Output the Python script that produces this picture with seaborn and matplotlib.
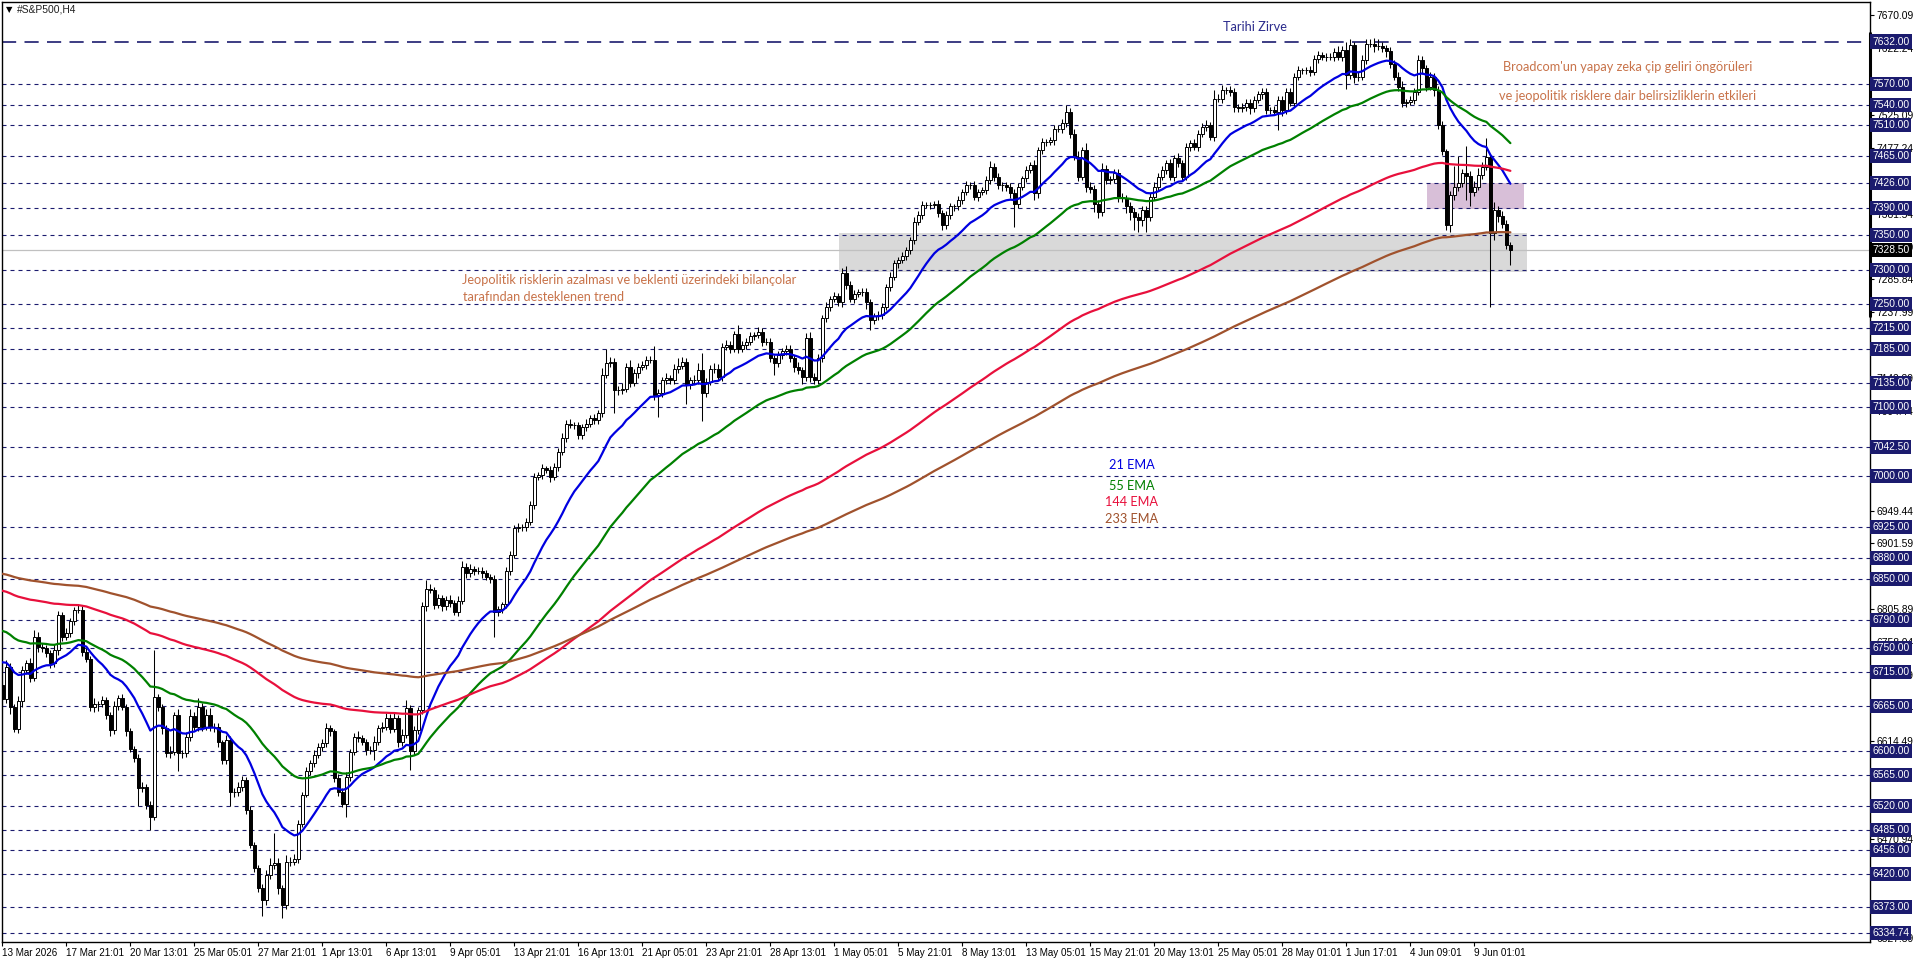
import numpy as np
import pandas as pd
import matplotlib
matplotlib.use("Agg")
import matplotlib.pyplot as plt
import matplotlib.transforms as mtransforms
import seaborn as sns

# H4 candles (one row = one time-label interval of 16 bars)
first_open = 6695
closes = [
    6675, 6722, 6664, 6632, 6672, 6717, 6727, 6706, 6766, 6751, 6749, 6742, 6727, 6746, 6797, 6766,
    6771, 6788, 6805, 6805, 6744, 6734, 6664, 6668, 6668, 6674, 6652, 6630, 6665, 6676, 6664, 6628,
    6603, 6589, 6545, 6547, 6521, 6504, 6678, 6664, 6633, 6596, 6598, 6652, 6596, 6596, 6620, 6650,
    6635, 6664, 6635, 6652, 6635, 6635, 6612, 6586, 6615, 6540, 6540, 6547, 6557, 6514, 6463, 6429,
    6400, 6382, 6419, 6434, 6436, 6400, 6375, 6438, 6438, 6443, 6494, 6536, 6570, 6582, 6594, 6606,
    6611, 6633, 6628, 6560, 6540, 6523, 6562, 6598, 6620, 6618, 6613, 6601, 6601, 6613, 6633, 6635,
    6647, 6632, 6647, 6613, 6623, 6662, 6599, 6630, 6659, 6810, 6836, 6834, 6812, 6822, 6810, 6820,
    6815, 6802, 6818, 6868, 6858, 6865, 6862, 6862, 6858, 6853, 6850, 6802, 6806, 6813, 6861, 6885,
    6924, 6926, 6925, 6933, 6958, 6999, 7001, 7011, 7009, 6999, 7013, 7035, 7055, 7076, 7074, 7074,
    7059, 7071, 7076, 7084, 7081, 7092, 7147, 7164, 7166, 7125, 7125, 7127, 7159, 7135, 7149, 7159,
    7161, 7169, 7169, 7118, 7120, 7139, 7142, 7139, 7156, 7160, 7166, 7132, 7139, 7139, 7154, 7120,
    7137, 7156, 7156, 7144, 7188, 7190, 7185, 7206, 7185, 7190, 7195, 7203, 7205, 7210, 7195, 7195,
    7171, 7164, 7176, 7181, 7185, 7171, 7159, 7154, 7144, 7200, 7144, 7139, 7171, 7229, 7246, 7258,
    7261, 7253, 7295, 7278, 7258, 7265, 7268, 7268, 7253, 7227, 7232, 7234, 7246, 7275, 7290, 7309,
    7314, 7320, 7328, 7343, 7370, 7380, 7394, 7394, 7394, 7396, 7382, 7365, 7379, 7392, 7392, 7401,
    7413, 7423, 7423, 7406, 7413, 7416, 7430, 7450, 7435, 7423, 7423, 7421, 7411, 7396, 7421, 7433,
    7445, 7452, 7411, 7474, 7486, 7486, 7488, 7505, 7505, 7513, 7530, 7498, 7464, 7435, 7474, 7421,
    7418, 7396, 7384, 7447, 7430, 7432, 7440, 7406, 7404, 7392, 7384, 7377, 7372, 7387, 7377, 7406,
    7421, 7435, 7445, 7455, 7435, 7462, 7455, 7435, 7479, 7484, 7479, 7498, 7508, 7510, 7493, 7549,
    7549, 7561, 7561, 7559, 7537, 7535, 7537, 7543, 7535, 7547, 7555, 7559, 7532, 7532, 7530, 7547,
    7532, 7559, 7543, 7581, 7590, 7590, 7590, 7588, 7607, 7612, 7610, 7610, 7610, 7617, 7610, 7620,
    7583, 7627, 7581, 7581, 7605, 7629, 7629, 7625, 7625, 7622, 7618, 7600, 7581, 7566, 7542, 7544,
    7547, 7559, 7605, 7593, 7566, 7580, 7562, 7510, 7472, 7365, 7409, 7421, 7426, 7440, 7437, 7413,
    7421, 7438, 7450, 7464, 7353, 7387, 7378, 7367, 7336, 7328.5,
]
upper_wick = [
    6, 10, 5, 4, 8, 6, 5, 8, 10, 6, 6, 5, 4, 9, 6, 5,
    7, 5, 4, 9, 6, 5, 4, 8, 5, 6, 4, 5, 7, 5, 6, 4,
    5, 4, 6, 8, 5, 6, 68, 5, 4, 5, 9, 5, 8, 5, 7, 10,
    6, 12, 5, 9, 10, 6, 5, 4, 8, 7, 5, 8, 6, 4, 5, 4,
    4, 6, 8, 10, 44, 8, 5, 10, 8, 6, 5, 4, 6, 5, 7, 5,
    6, 8, 5, 4, 6, 5, 7, 5, 6, 9, 5, 4, 6, 8, 5, 7,
    8, 6, 10, 5, 8, 12, 4, 6, 5, 6, 12, 6, 4, 6, 5, 5,
    6, 5, 7, 8, 5, 6, 4, 5, 6, 5, 4, 6, 5, 4, 6, 5,
    5, 6, 4, 5, 6, 5, 5, 6, 4, 5, 6, 5, 8, 5, 6, 4,
    5, 4, 6, 5, 6, 4, 10, 20, 7, 6, 5, 8, 5, 10, 6, 5,
    6, 5, 6, 20, 6, 5, 8, 5, 6, 12, 7, 6, 5, 8, 10, 25,
    6, 5, 8, 6, 5, 7, 6, 5, 14, 6, 5, 6, 4, 6, 5, 6,
    6, 5, 6, 5, 5, 6, 5, 6, 4, 8, 10, 5, 6, 5, 7, 4,
    6, 5, 8, 10, 6, 5, 4, 6, 5, 4, 5, 6, 5, 4, 6, 5,
    5, 6, 5, 4, 6, 5, 6, 4, 5, 4, 6, 5, 6, 5, 4, 6,
    5, 6, 5, 6, 5, 4, 6, 8, 5, 6, 5, 4, 5, 6, 5, 4,
    6, 5, 8, 5, 6, 4, 5, 6, 5, 6, 10, 5, 6, 8, 5, 10,
    6, 5, 6, 8, 6, 5, 6, 6, 5, 5, 6, 5, 6, 5, 6, 5,
    6, 5, 6, 5, 6, 5, 8, 5, 6, 5, 6, 5, 6, 8, 5, 12,
    6, 8, 5, 6, 5, 4, 6, 5, 5, 6, 5, 6, 5, 4, 6, 5,
    6, 5, 6, 5, 6, 4, 5, 6, 5, 6, 5, 6, 5, 6, 8, 6,
    12, 9, 5, 6, 8, 6, 7, 8, 10, 6, 5, 6, 5, 6, 8, 5,
    5, 6, 8, 6, 5, 8, 6, 5, 6, 4, 6, 30, 40, 6, 40, 6,
    8, 10, 6, 27, 3, 12, 6, 8, 5, 4,
]
lower_wick = [
    8, 6, 10, 5, 6, 8, 5, 6, 5, 8, 6, 5, 6, 5, 7, 6,
    5, 6, 5, 4, 6, 5, 6, 8, 10, 5, 6, 8, 5, 6, 5, 6,
    5, 6, 25, 5, 6, 19, 5, 6, 8, 5, 6, 5, 25, 6, 5, 6,
    5, 6, 7, 5, 6, 8, 6, 5, 6, 20, 8, 6, 5, 6, 5, 6,
    5, 22, 6, 5, 6, 8, 19, 5, 6, 5, 6, 5, 4, 5, 6, 5,
    6, 5, 6, 5, 6, 5, 19, 6, 5, 6, 5, 8, 6, 14, 5, 6,
    5, 6, 5, 8, 6, 5, 27, 6, 5, 5, 6, 5, 6, 5, 6, 5,
    6, 5, 6, 5, 6, 5, 6, 5, 6, 5, 6, 36, 6, 5, 6, 5,
    5, 6, 5, 6, 5, 6, 5, 6, 5, 8, 5, 6, 5, 6, 5, 6,
    6, 5, 6, 5, 6, 5, 6, 5, 6, 34, 8, 6, 5, 6, 5, 6,
    5, 6, 5, 8, 32, 6, 5, 6, 5, 6, 5, 27, 6, 5, 6, 40,
    6, 5, 6, 5, 6, 5, 6, 5, 6, 5, 6, 5, 6, 5, 6, 5,
    6, 18, 5, 6, 5, 6, 8, 6, 11, 6, 8, 6, 5, 6, 5, 6,
    5, 6, 8, 6, 5, 6, 5, 6, 10, 15, 6, 5, 6, 5, 6, 5,
    6, 5, 6, 5, 6, 5, 6, 5, 6, 5, 6, 8, 6, 5, 6, 5,
    6, 5, 6, 5, 6, 5, 6, 5, 6, 5, 8, 6, 6, 34, 6, 5,
    6, 5, 10, 6, 5, 6, 5, 6, 5, 6, 5, 6, 5, 6, 5, 8,
    6, 12, 9, 6, 5, 6, 6, 8, 6, 10, 12, 20, 17, 8, 22, 6,
    5, 6, 5, 6, 5, 6, 5, 6, 5, 6, 5, 6, 5, 6, 5, 6,
    5, 6, 5, 6, 8, 6, 5, 6, 8, 6, 5, 6, 5, 6, 5, 27,
    8, 6, 5, 6, 5, 6, 5, 6, 5, 6, 5, 6, 5, 6, 5, 6,
    20, 6, 10, 6, 5, 6, 5, 8, 6, 5, 8, 6, 5, 6, 5, 6,
    5, 6, 5, 8, 6, 5, 10, 6, 5, 7, 10, 8, 6, 6, 36, 21,
    6, 5, 6, 5, 107, 10, 8, 6, 6, 21,
]

# moving averages: period, value just before the first visible bar, colour
ema_periods = [21, 55, 144, 233]
ema_seeds = [6734, 6778, 6835, 6859]
ema_colors = ["#0000e0", "#008000", "#e8103c", "#a0522d"]
ema_names = ["21 EMA", "55 EMA", "144 EMA", "233 EMA"]

time_labels = ["13 Mar 2026", "17 Mar 21:01", "20 Mar 13:01", "25 Mar 05:01", "27 Mar 21:01",
               "1 Apr 13:01", "6 Apr 13:01", "9 Apr 05:01", "13 Apr 21:01", "16 Apr 13:01",
               "21 Apr 05:01", "23 Apr 21:01", "28 Apr 13:01", "1 May 05:01", "5 May 21:01",
               "8 May 13:01", "13 May 05:01", "15 May 21:01", "20 May 13:01", "25 May 05:01",
               "28 May 01:01", "1 Jun 17:01", "4 Jun 09:01", "9 Jun 01:01"]
bars_per_label = 16

# horizontal levels drawn by hand on the chart
record_high = 7632.00
levels = [7570, 7540, 7510, 7465, 7426, 7390, 7350, 7300, 7250, 7215, 7185, 7135, 7100,
          7042.5, 7000, 6925, 6880, 6850, 6790, 6750, 6715, 6665, 6600, 6565, 6520, 6485,
          6456, 6420, 6373, 6334.74]
scale_labels = [7670.09, 7622.24, 7525.09, 7477.24, 7381.54, 7333.69, 7285.84, 7237.99,
                7142.29, 7094.44, 6949.44, 6901.59, 6805.89, 6758.04, 6710.19, 6662.34,
                6614.49, 6470.94, 6327.39]
last_price = 7328.50

support_zone = (209.2, 381.1, 7297, 7353)
resistance_zone = (356.1, 380.3, 7388, 7426)

note_top = ["Broadcom'un yapay zeka çip geliri öngörüleri",
            "ve jeopolitik risklere dair belirsizliklerin etkileri"]
note_trend = ["Jeopolitik risklerin azalması ve beklenti üzerindeki bilançolar",
              "tarafından desteklenen trend"]

sns.set_style("white")
plt.rcParams["font.family"] = ["Liberation Sans", "DejaVu Sans"]

NAVY = "#1b1b6e"
NOTE = "#c8734a"
NOTE_SIZE = 9.2

fig = plt.figure(figsize=(19.16, 9.63), dpi=100)
ax = fig.add_axes([2 / 1916, 21 / 963, 1868 / 1916, 940 / 963])
ax.set_facecolor("white")

n = len(closes)
bars = np.arange(n)
opens = [first_open] + closes[:-1]
highs = [max(o, c) + u for o, c, u in zip(opens, closes, upper_wick)]
lows = [min(o, c) - d for o, c, d in zip(opens, closes, lower_wick)]

# zones
for x0, x1, y0, y1, col in [(*support_zone, "#d9d9d9"), (*resistance_zone, "#d8bfd8")]:
    ax.fill_between([x0, x1], y0, y1, color=col, linewidth=0, zorder=0.5)

# levels
for lv in levels:
    ax.axhline(lv, color=NAVY, linewidth=0.8, dashes=(3.6, 3.6), zorder=1)
ax.axhline(record_high, color=NAVY, linewidth=1.2, dashes=(8.5, 5), zorder=1)
ax.axhline(last_price, color="#c0c0c0", linewidth=0.9, zorder=1.2)

# candles
ax.vlines(bars, lows, highs, color="black", linewidth=0.75, zorder=3)
body_low = [min(o, c) for o, c in zip(opens, closes)]
body_h = [abs(c - o) for o, c in zip(opens, closes)]
faces = ["white" if c > o else "black" for o, c in zip(opens, closes)]
ax.bar(bars, body_h, bottom=body_low, width=0.62, color=faces, edgecolor="black",
       linewidth=0.7, zorder=3.2)

# EMAs
for period, seed, col in zip(ema_periods, ema_seeds, ema_colors):
    ema = pd.Series([seed] + closes).ewm(span=period, adjust=False).mean().iloc[1:].values
    sns.lineplot(x=bars, y=ema, color=col, linewidth=1.6, ax=ax, zorder=4)

ax.set_xlim(-0.075, 466.9)
ax.set_ylim(6321.6, 7689.5)

# axes furniture
for sp in ax.spines.values():
    sp.set_color("black")
    sp.set_linewidth(1.0)
ax.set_xticks(np.arange(len(time_labels)) * bars_per_label)
ax.set_xticklabels(time_labels, ha="left")
ax.tick_params(axis="x", direction="out", length=3, width=0.8, pad=1.5, labelsize=7.1,
               colors="black", bottom=True)
ax.yaxis.tick_right()
ax.set_yticks(scale_labels)
ax.set_yticklabels([f"{v:.2f}" for v in scale_labels])
ax.tick_params(axis="y", direction="out", length=3, width=0.8, pad=1.5, labelsize=7.4,
               colors="black", right=True, left=False)
ax.set_xlabel("")
ax.set_ylabel("")

ytrans = mtransforms.blended_transform_factory(ax.transAxes, ax.transData)
for v in [record_high] + levels:
    ax.text(1.0012, v, f"{v:.2f}", transform=ytrans, ha="left", va="center", fontsize=7.4,
            color="white", zorder=10, clip_on=False,
            bbox=dict(boxstyle="square,pad=0.2", fc=NAVY, ec="none"))
ax.text(1.0012, last_price, f"{last_price:.2f}", transform=ytrans, ha="left", va="center",
        fontsize=7.4, color="white", zorder=11, clip_on=False,
        bbox=dict(boxstyle="square,pad=0.2", fc="black", ec="none"))
ax.plot([1.0, 1.0], [7644, 7232], transform=ytrans, color="black", linewidth=2.2,
        clip_on=False, zorder=9)

# annotations
fig.text(6 / 1916, 1 - 10 / 963, "\u25bc", fontsize=6, color="black", va="center",
         family="DejaVu Sans")
fig.text(17 / 1916, 1 - 10 / 963, "#S&P500,H4", fontsize=7.4, color="#202020", va="center")

ax.text(313.2, 7653, "Tarihi Zirve", fontsize=NOTE_SIZE, color="#2b2b8c", ha="center",
        va="center", family="Lato", zorder=6)
ax.text(375.2, 7595.3, note_top[0], fontsize=NOTE_SIZE, color=NOTE, ha="left", va="center",
        family="Lato", zorder=6)
ax.text(374.2, 7552.7, note_top[1], fontsize=NOTE_SIZE, color=NOTE, ha="left", va="center",
        family="Lato", zorder=6)
ax.text(114.8, 7285, note_trend[0], fontsize=NOTE_SIZE, color=NOTE, ha="left", va="center",
        family="Lato", zorder=6)
ax.text(115.2, 7260.6, note_trend[1], fontsize=NOTE_SIZE, color=NOTE, ha="left", va="center",
        family="Lato", zorder=6)
for name, col, y in zip(ema_names, ema_colors, [7015.7, 6985.2, 6962.3, 6937.2]):
    ax.text(282.3, y, name, fontsize=NOTE_SIZE, color=col, ha="center", va="center",
            family="Lato", zorder=6)

fig.savefig("out.png", dpi=100, facecolor="white")
